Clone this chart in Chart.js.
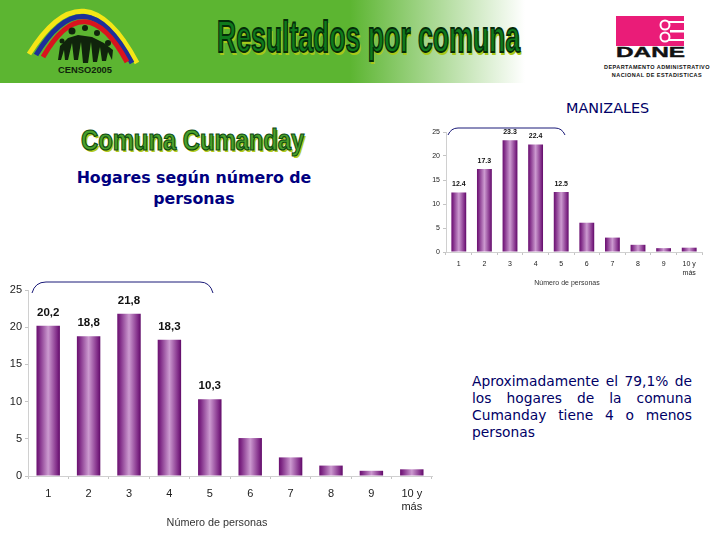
<!DOCTYPE html>
<html>
<head>
<meta charset="utf-8">
<script src="https://cdn.jsdelivr.net/npm/chart.js@4"></script>
<style>
html, body { margin: 0; padding: 0; background: #fff; }
#page { position: relative; width: 720px; height: 540px; overflow: hidden; font-family: "DejaVu Sans", sans-serif; }
#page > * { position: absolute; }
#header { left: 0; top: 0; width: 720px; height: 83px; background: linear-gradient(to right, #5cb531 0, #5cb531 350px, #ffffff 525px); }
#mainTitle { left: 217px; top: 12px; white-space: nowrap; font: bold 40px "Liberation Sans", sans-serif; color: #0f7a1c; -webkit-text-stroke: 1.6px #042c08; text-shadow: 2px 2px 0 #a8c818; transform-origin: 0 0; transform: scale(0.665, 1.12); }
#comuna { left: 81px; top: 124px; white-space: nowrap; font: bold 29px "Liberation Sans", sans-serif; color: #4aa02c; -webkit-text-stroke: 1.2px #0d4a10; text-shadow: 2px 2px 0 #b5cc20; transform-origin: 0 0; transform: scaleX(0.82); }
#subtitle { left: 64px; top: 167px; width: 260px; text-align: center; font-size: 15.8px; font-weight: bold; line-height: 21px; color: #000080; }
#city { left: 566px; top: 100px; font-size: 14.4px; color: #000066; }
#daneText { left: 590px; top: 63px; width: 134px; text-align: center; font: bold 5.5px/8px "Liberation Sans", sans-serif; letter-spacing: 0.45px; color: #111; }
#note { left: 472px; top: 373px; width: 220px; font-size: 13.8px; line-height: 17px; color: #000066; }
#note div { text-align: justify; text-align-last: justify; white-space: nowrap; }
#note div:last-child { text-align-last: left; }
</style>
</head>
<body>
<div id="page">
  <div id="header"></div>

  <svg style="left:0;top:0" width="720" height="300">
    <g fill="none" stroke-linecap="butt">
      <path d="M29 54 Q85 -36 137 63" stroke="#f4e616" stroke-width="5"/>
      <path d="M36 55 Q85 -26 132 63" stroke="#1c2f9a" stroke-width="5"/>
      <path d="M43 57 Q85 -16 127 62" stroke="#d8141e" stroke-width="5"/>
    </g>
    <g fill="#10240c">
      <circle cx="72" cy="31" r="3.5"/><circle cx="85" cy="28" r="3"/><circle cx="97" cy="33" r="3"/><circle cx="108" cy="43" r="3"/><circle cx="62" cy="41" r="2.5"/>
      <path d="M58 60 L60 46 L68 38 L78 35 L92 37 L104 43 L113 50 L112 60 L108 52 L106 61 L102 61 L100 47 L97 62 L93 62 L91 42 L88 63 L83 63 L81 42 L78 60 L74 60 L72 43 L68 60 L65 60 L64 50 L61 60 Z"/>
    </g>
    <text x="58" y="73" font-family="Liberation Sans" font-weight="bold" font-size="9.5" fill="#10240c" textLength="54" lengthAdjust="spacingAndGlyphs">CENSO2005</text>
    <rect x="616" y="16" width="68" height="30" fill="#ea1c78"/>
    <g fill="#fff">
      <rect x="670" y="30" width="14" height="2.5"/>
      <rect x="665" y="21" width="19" height="2"/>
      <rect x="665" y="39" width="19" height="2"/>
    </g>
    <g fill="#ea1c78" stroke="#fff" stroke-width="2">
      <circle cx="665" cy="25" r="4.5"/><circle cx="665" cy="37" r="4.5"/>
    </g>
    <text x="616" y="57" font-family="Liberation Sans" font-weight="bold" font-size="15" fill="#111" stroke="#111" stroke-width="0.4" textLength="69" lengthAdjust="spacingAndGlyphs">DANE</text>
    <path d="M32 293 Q35 282 46 282 L200 282 Q210 282 213 293" fill="none" stroke="#1a1a78" stroke-width="1"/>
  </svg>

  <div id="mainTitle">Resultados por comuna</div>
  <div id="daneText">DEPARTAMENTO ADMINISTRATIVO<br>NACIONAL DE ESTADISTICAS</div>
  <div id="city">MANIZALES</div>
  <div id="comuna">Comuna Cumanday</div>
  <div id="subtitle">Hogares según número de personas</div>

  <canvas id="bigChart" style="left:0;top:280px"></canvas>
  <canvas id="smallChart" style="left:420px;top:120px"></canvas>

  <svg style="left:440px;top:120px" width="140" height="20">
    <path d="M8 15 Q11 8 18 8 L115 8 Q122 8 125 15" fill="none" stroke="#1a1a78" stroke-width="1"/>
  </svg>

  <div id="note">
    <div>Aproximadamente el 79,1% de</div>
    <div>los hogares de la comuna</div>
    <div>Cumanday tiene 4 o menos</div>
    <div>personas</div>
  </div>
</div>

<script>
const categorias = ['1', '2', '3', '4', '5', '6', '7', '8', '9', ['10 y', 'más']];
const tickValues = [0, 5, 10, 15, 20, 25];
const ejeTitulo = 'Número de personas';

// comuna
const hogaresComuna = [20.2, 18.8, 21.8, 18.3, 10.3, 5.1, 2.5, 1.4, 0.7, 0.9];
const etiquetasComuna = ['20,2', '18,8', '21,8', '18,3', '10,3'];

// Manizales
const hogaresCiudad = [12.4, 17.3, 23.3, 22.4, 12.5, 6.1, 3.0, 1.5, 0.8, 0.9];
const etiquetasCiudad = ['12.4', '17.3', '23.3', '22.4', '12.5'];

const barLook = {
    id: 'barLook',
    afterDatasetsDraw(chart, args, opts) {
        const ctx = chart.ctx;
        const meta = chart.getDatasetMeta(0);
        ctx.save();
        ctx.fillStyle = '#111';
        ctx.textAlign = 'center';
        ctx.textBaseline = 'alphabetic';
        ctx.font = 'bold ' + opts.labelSize + 'px "Liberation Sans"';
        opts.labels.forEach((txt, i) => {
            ctx.fillText(txt, meta.data[i].x, meta.data[i].y - opts.labelGap);
        });
        ctx.font = opts.titleSize + 'px "Liberation Sans"';
        ctx.fillStyle = '#333';
        ctx.fillText(ejeTitulo, opts.titleX, opts.titleY);
        ctx.restore();
    }
};

function barGradient(context) {
    const chart = context.chart;
    const xs = chart.scales.x;
    if (!xs || context.dataIndex === undefined) return '#8a3f90';
    const cx = xs.getPixelForValue(context.dataIndex);
    const half = xs.width / 10 * 0.29;
    // los scales aun no tienen medida en la primera pasada
    if (!Number.isFinite(cx) || !Number.isFinite(half)) return '#8a3f90';
    const g = chart.ctx.createLinearGradient(cx - half, 0, cx + half, 0);
    g.addColorStop(0, '#6a0f70');
    g.addColorStop(0.12, '#7f2a86');
    g.addColorStop(0.5, '#cc9ad0');
    g.addColorStop(0.88, '#7f2a86');
    g.addColorStop(1, '#600a68');
    return g;
}

function renderChart(id, values, labels, s) {
    const el = document.getElementById(id);
    el.width = s.w;
    el.height = s.h;
    return new Chart(el.getContext('2d'), {
        type: 'bar',
        data: {
            labels: categorias,
            datasets: [{
                data: values,
                backgroundColor: barGradient,
                categoryPercentage: 1,
                barPercentage: 0.58
            }]
        },
        plugins: [barLook],
        options: {
            responsive: false,
            animation: false,
            events: [],
            layout: { padding: { top: s.top, right: s.right, left: 0, bottom: 0 } },
            plugins: {
                legend: { display: false },
                tooltip: { enabled: false },
                barLook: { labels: labels, labelSize: s.labelSize, labelGap: s.labelGap, titleSize: s.titleSize, titleX: s.titleX, titleY: s.titleY }
            },
            scales: {
                x: {
                    afterFit(scale) { scale.height = s.axisH; },
                    grid: { drawOnChartArea: false, color: '#c4c4c4', tickLength: 3 },
                    border: { color: '#d0d0d0' },
                    ticks: { color: '#222', font: { family: 'Liberation Sans', size: s.tickSize }, padding: s.tickPad, maxRotation: 0, autoSkip: false }
                },
                y: {
                    min: 0,
                    max: 25,
                    afterFit(scale) { scale.width = s.axisW; },
                    afterBuildTicks(scale) { scale.ticks = tickValues.map(v => ({ value: v })); },
                    grid: { drawOnChartArea: false, color: '#c4c4c4', tickLength: 3 },
                    border: { color: '#d0d0d0' },
                    ticks: { color: '#222', font: { family: 'Liberation Sans', size: s.yTickSize }, padding: 3 }
                }
            }
        }
    });
}

renderChart('bigChart', hogaresComuna, etiquetasComuna, {
    w: 440, h: 260, top: 10, right: 8, axisW: 28, axisH: 64,
    labelSize: 11.5, labelGap: 10, titleSize: 10.8, titleX: 217, titleY: 246,
    tickSize: 11, yTickSize: 11, tickPad: 8
});

renderChart('smallChart', hogaresCiudad, etiquetasCiudad, {
    w: 290, h: 170, top: 12, right: 8, axisW: 26, axisH: 38,
    labelSize: 7, labelGap: 6, titleSize: 7, titleX: 147, titleY: 165,
    tickSize: 7, yTickSize: 7, tickPad: 5
});
</script>
</body>
</html>
